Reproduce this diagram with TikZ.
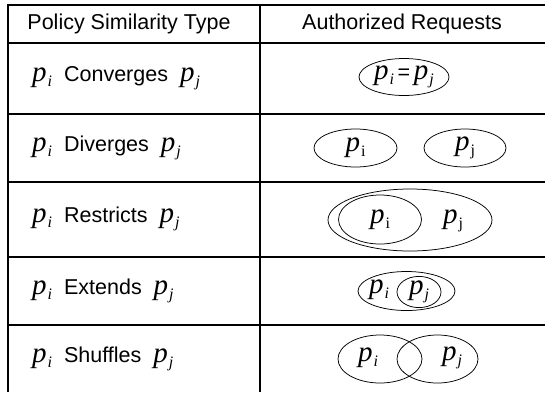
\documentclass[tikz,border=0pt]{standalone}
\usepackage{fontspec}
\setmainfont{Liberation Sans}
\newfontfamily\tnr{Liberation Serif}
\usetikzlibrary{shapes.geometric}

% policy symbol p with a subscript (italic or upright index)
\newcommand{\pol}[1]{{\tnr\fontsize{29}{30}\selectfont\itshape p\kern1pt\raisebox{-5pt}{\fontsize{16}{17}\selectfont #1}}}
\newcommand{\polu}[1]{{\tnr\fontsize{29}{30}\selectfont\itshape p\kern1pt\raisebox{-5pt}{\fontsize{16}{17}\selectfont\upshape #1}}}

\begin{document}
\begin{tikzpicture}[x=1pt,y=-1pt,
    font=\fontsize{21.5}{25}\selectfont,
    grid/.style={line width=1.3pt},
    reqset/.style={shape=ellipse, draw, line width=0.75pt, inner sep=0pt},
    typelbl/.style={anchor=west, inner sep=0pt}]
    \useasboundingbox (0,0) rectangle (545,392);

    % table rules
    \draw[grid] (8,392) -- (8,5) -- (545,5);
    \draw[grid] (260,5) -- (260,392);
    \foreach \y in {43,114,182,257,325}
        \draw[grid] (8,\y) -- (545,\y);

    % header
    \node (hType) at (129,24) {Policy Similarity Type};
    \node (hReq) at (402,24) {Authorized Requests};

    % similarity types
    \node[typelbl] (tConv) at (32,78) {\pol{i}\ \ Converges\ \ \pol{j}};
    \node[typelbl] (tDiv) at (32,148) {\pol{i}\ \ Diverges\ \ \pol{j}};
    \node[typelbl] (tRes) at (32,219) {\pol{i}\ \ Restricts\ \ \pol{j}};
    \node[typelbl] (tExt) at (32,291) {\pol{i}\ \ Extends\ \ \pol{j}};
    \node[typelbl] (tShu) at (32,359) {\pol{i}\ \ Shuffles\ \ \pol{j}};

    % converges
    \node[reqset, minimum width=90pt, minimum height=37pt] (cAll) at (404,77) {\pol{i}\,=\,\pol{j}};

    % diverges
    \node[reqset, minimum width=83pt, minimum height=38pt] (dI) at (355.5,148) {\polu{i}};
    \node[reqset, minimum width=82pt, minimum height=38pt] (dJ) at (465,148) {\polu{j}};

    % restricts
    \node[reqset, minimum width=164pt, minimum height=62pt] (rJ) at (410,220) {};
    \node[reqset, minimum width=83pt, minimum height=49pt] (rI) at (380,219.5) {\polu{i}};
    \node (rJlbl) at (453,221) {\polu{j}};

    % extends
    \node[reqset, minimum width=97pt, minimum height=39pt] (eI) at (406.5,291) {};
    \node[reqset, minimum width=44pt, minimum height=22pt] (eJ) at (419,292) {\pol{j}};
    \node (eIlbl) at (379,290) {\pol{i}};

    % shuffles
    \node[reqset, minimum width=84pt, minimum height=48pt] (sI) at (380,359) {};
    \node[reqset, minimum width=81pt, minimum height=48pt] (sJ) at (437.5,359) {};
    \node (sIlbl) at (368,358) {\pol{i}};
    \node (sJlbl) at (452,358) {\pol{j}};

\end{tikzpicture}
\end{document}
